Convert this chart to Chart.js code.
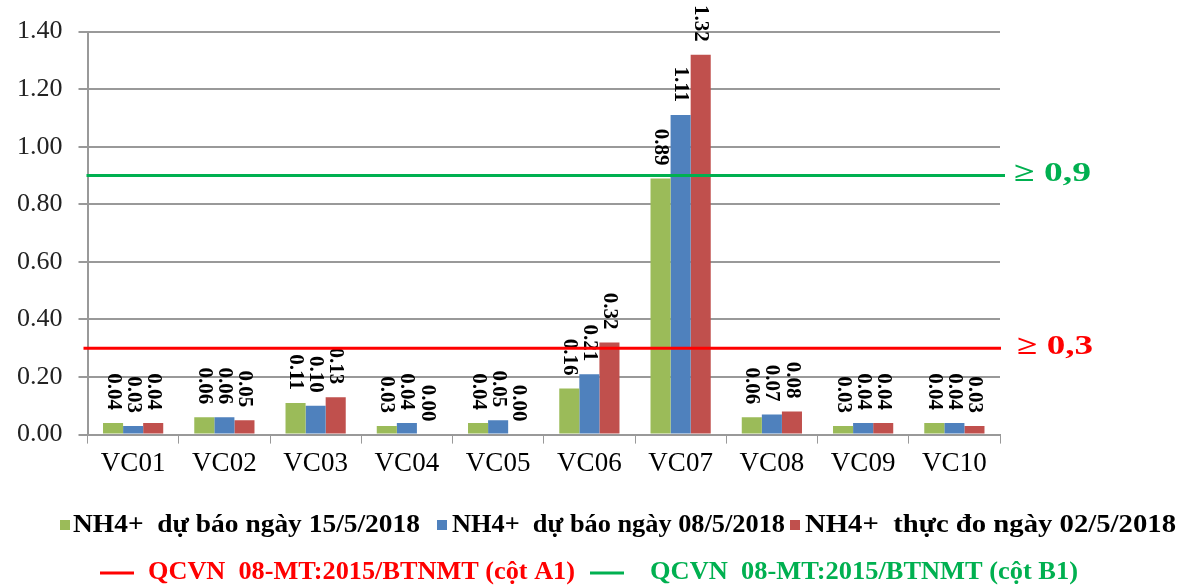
<!DOCTYPE html>
<html>
<head>
<meta charset="utf-8">
<script src="https://cdn.jsdelivr.net/npm/chart.js@4/dist/chart.umd.min.js"></script>
<style>
  html, body { margin: 0; padding: 0; background: #fff; }
  #wrap { position: relative; width: 1186px; height: 587px; }
</style>
</head>
<body>
<div id="wrap"><canvas id="myChart" width="1186" height="587"></canvas></div>
<script>
const categories = ['VC01', 'VC02', 'VC03', 'VC04', 'VC05', 'VC06', 'VC07', 'VC08', 'VC09', 'VC10']
const forecast15 = [0.04, 0.06, 0.11, 0.03, 0.04, 0.16, 0.89, 0.06, 0.03, 0.04]
const forecast08 = [0.03, 0.06, 0.10, 0.04, 0.05, 0.21, 1.11, 0.07, 0.04, 0.04]
const measured02 = [0.04, 0.05, 0.13, 0.00, 0.00, 0.32, 1.32, 0.08, 0.04, 0.03]
const seriesNames = ['NH4+  dự báo ngày 15/5/2018', 'NH4+  dự báo ngày 08/5/2018', 'NH4+  thực đo ngày 02/5/2018']
const limitA1 = 0.3
const limitB1 = 0.9
const limitNames = ['QCVN  08-MT:2015/BTNMT (cột A1)', 'QCVN  08-MT:2015/BTNMT (cột B1)']
const limitTags = ['\u2265 0,3', '\u2265 0,9']

const serif = "'Liberation Serif', 'Times New Roman', serif"

// draw text squeezed/stretched to a given width (the source image is a bit wide)
function fitText(ctx, text, x, y, width) {
    const w = ctx.measureText(text).width
    ctx.save()
    ctx.translate(x, y)
    ctx.scale(width / w, 1)
    ctx.fillText(text, 0, 0)
    ctx.restore()
}

// rotated value labels on top of bars
const valueLabels = {
    id: 'valueLabels',
    afterDatasetsDraw(chart) {
        const ctx = chart.ctx
        chart.data.datasets.forEach((ds, i) => {
            const meta = chart.getDatasetMeta(i)
            meta.data.forEach((bar, j) => {
                ctx.save()
                ctx.translate(bar.x, bar.y - 13)
                ctx.rotate(Math.PI / 2)
                ctx.font = 'bold 21px ' + serif
                ctx.fillStyle = '#000'
                ctx.textAlign = 'right'
                ctx.textBaseline = 'middle'
                ctx.fillText(ds.data[j].toFixed(2), 0, 0)
                ctx.restore()
            })
        })
    }
}

// QCVN limit lines + tags on the right
const limitLines = {
    id: 'limitLines',
    afterDatasetsDraw(chart) {
        const ctx = chart.ctx
        const area = chart.chartArea
        const y = chart.scales.y
        const lines = [
            { v: limitA1, color: '#FF0000', tag: limitTags[0], x0: area.left - 4, x1: area.right + 1, tx: 1017, tw: 76 },
            { v: limitB1, color: '#00B050', tag: limitTags[1], x0: area.left - 1, x1: area.right + 5, tx: 1014, tw: 77 },
        ]
        lines.forEach(l => {
            const py = y.getPixelForValue(l.v)
            ctx.save()
            ctx.strokeStyle = l.color
            ctx.lineWidth = 3
            ctx.beginPath()
            ctx.moveTo(l.x0, py)
            ctx.lineTo(l.x1, py)
            ctx.stroke()
            ctx.font = 'bold 27px ' + serif
            ctx.fillStyle = l.color
            ctx.textBaseline = 'middle'
            fitText(ctx, l.tag, l.tx, py - 1, l.tw)
            ctx.restore()
        })
    }
}

// two-row legend drawn by hand
const legendRows = {
    id: 'legendRows',
    afterDraw(chart) {
        const ctx = chart.ctx
        ctx.save()
        ctx.font = 'bold 25px ' + serif
        ctx.textBaseline = 'middle'
        const boxes = [
            { x: 60, color: '#9BBB59', text: seriesNames[0], tx: 73, tw: 347 },
            { x: 437, color: '#4F81BD', text: seriesNames[1], tx: 452, tw: 333 },
            { x: 790, color: '#C0504D', text: seriesNames[2], tx: 805, tw: 371 },
        ]
        boxes.forEach(b => {
            ctx.fillStyle = b.color
            ctx.fillRect(b.x, 520, 10, 10)
            ctx.fillStyle = '#000'
            fitText(ctx, b.text, b.tx, 526, b.tw)
        })
        const lines = [
            { x: 100, color: '#FF0000', text: limitNames[0], tx: 148, tw: 427 },
            { x: 590, color: '#00B050', text: limitNames[1], tx: 650, tw: 428 },
        ]
        lines.forEach(l => {
            ctx.strokeStyle = l.color
            ctx.lineWidth = 3
            ctx.beginPath()
            ctx.moveTo(l.x, 573)
            ctx.lineTo(l.x + 34, 573)
            ctx.stroke()
            ctx.fillStyle = l.color
            fitText(ctx, l.text, l.tx, 573, l.tw)
        })
        ctx.restore()
    }
}

new Chart(document.getElementById('myChart'), {
    type: 'bar',
    data: {
        labels: categories,
        datasets: [
            { label: seriesNames[0], data: forecast15, backgroundColor: '#9BBB59' },
            { label: seriesNames[1], data: forecast08, backgroundColor: '#4F81BD' },
            { label: seriesNames[2], data: measured02, backgroundColor: '#C0504D' },
        ],
    },
    options: {
        responsive: false,
        animation: false,
        datasets: {
            bar: { categoryPercentage: 0.66, barPercentage: 1.0 }
        },
        layout: {
            padding: { left: 1, right: 186, top: 17, bottom: 103 }
        },
        scales: {
            x: {
                grid: { display: true, drawOnChartArea: false, drawTicks: true, tickLength: 9, color: '#999', offset: true },
                border: { color: '#999', width: 2 },
                ticks: { color: '#000', font: { family: serif, size: 27 }, padding: 4 },
            },
            y: {
                min: 0,
                max: 1.4,
                grid: { color: '#999', lineWidth: 2, tickLength: 9 },
                border: { color: '#999', width: 2 },
                ticks: {
                    stepSize: 0.2,
                    color: '#222',
                    font: { family: serif, size: 26 },
                    padding: 16,
                    callback: v => v.toFixed(2),
                },
            },
        },
        plugins: {
            legend: { display: false },
            tooltip: { enabled: false },
        },
    },
    plugins: [valueLabels, limitLines, legendRows],
})
</script>
</body>
</html>
